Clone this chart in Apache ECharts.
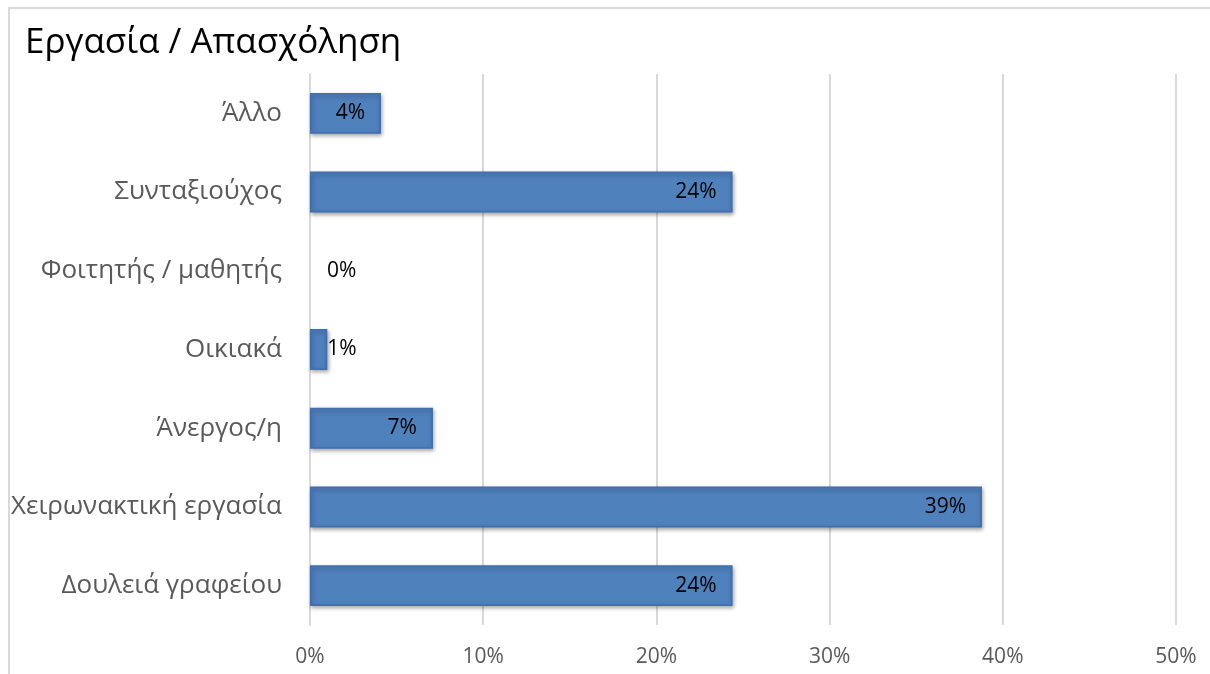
<!DOCTYPE html>
<html>
<head>
<meta charset="utf-8">
<script src="https://cdn.jsdelivr.net/npm/echarts@6/dist/echarts.min.js"></script>
<style>
  html, body { margin: 0; padding: 0; background: #fff; }
  #chart { width: 1210px; height: 674px; }
</style>
</head>
<body>
<div id="chart"></div>
<script>
// Categories listed bottom to top, as the y axis draws them
const categories = [
  'Δουλειά γραφείου',
  'Χειρωνακτική εργασία',
  'Άνεργος/η',
  'Οικιακά',
  'Φοιτητής / μαθητής',
  'Συνταξιούχος',
  'Άλλο'
];
// Share of respondents, percent
const shares = [24.4, 38.8, 7.1, 1.0, 0, 24.4, 4.1];
const xTicks = [0, 10, 20, 30, 40, 50];

const font = '"Open Sans", "Noto Sans", sans-serif';

const chart = echarts.init(document.getElementById('chart'));

const seriesData = shares.map(function (v) {
  const item = { value: v };
  if (v < 2) {
    item.label = { position: 'right', distance: v === 0 ? 17 : 0 };
  }
  if (v === 0) {
    item.itemStyle = { borderWidth: 0, shadowBlur: 0, shadowOffsetX: 0, shadowOffsetY: 0 };
  }
  return item;
});

chart.setOption({
  animation: false,
  graphic: [{
    type: 'rect',
    shape: { x: 9, y: 8, width: 1220, height: 700 },
    style: { fill: 'none', stroke: '#d9d9d9', lineWidth: 2 },
    silent: true
  }],
  title: {
    text: 'Εργασία / Απασχόληση',
    left: 20,
    top: 21,
    textStyle: { fontFamily: font, fontSize: 35, fontWeight: 'normal', color: '#000' }
  },
  grid: { left: 310, right: 34, top: 74, bottom: 49, containLabel: false },
  xAxis: {
    type: 'value',
    min: xTicks[0],
    max: xTicks[xTicks.length - 1],
    interval: 10,
    axisLine: { show: false },
    axisTick: { show: false },
    splitLine: { show: true, lineStyle: { color: '#d9d9d9', width: 2 } },
    axisLabel: {
      formatter: function (v) { return v + '%'; },
      margin: 22,
      fontFamily: font, fontSize: 21, color: '#595959'
    }
  },
  yAxis: {
    type: 'category',
    data: categories,
    axisLine: { show: true, lineStyle: { color: '#d9d9d9', width: 2 } },
    axisTick: { show: false },
    axisLabel: { margin: 28, fontFamily: font, fontSize: 26, color: '#595959' }
  },
  series: [{
    type: 'bar',
    data: seriesData,
    barCategoryGap: '48%',
    itemStyle: {
      color: '#4f81bd',
      borderColor: '#3f6fb0',
      borderWidth: 1.5,
      shadowColor: 'rgba(0,0,0,0.35)',
      shadowBlur: 4,
      shadowOffsetX: 1,
      shadowOffsetY: 2
    },
    label: {
      show: true,
      position: 'insideRight',
      distance: 16,
      formatter: function (p) { return Math.round(p.value) + '%'; },
      fontFamily: font, fontSize: 21, color: '#000'
    }
  }]
});
</script>
</body>
</html>
